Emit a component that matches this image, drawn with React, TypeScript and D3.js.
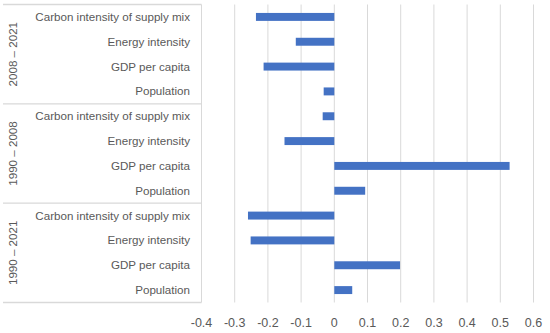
import { useMemo } from "react";
import * as d3 from "d3";

const groups = ["2008 – 2021", "1990 – 2008", "1990 – 2021"];
const factors = ["Carbon intensity of supply mix", "Energy intensity", "GDP per capita", "Population"];
const values2008_2021 = [-0.236, -0.116, -0.213, -0.032];
const values1990_2008 = [-0.035, -0.15, 0.528, 0.093];
const values1990_2021 = [-0.26, -0.252, 0.198, 0.054];
const xTicks = [-0.4, -0.3, -0.2, -0.1, 0, 0.1, 0.2, 0.3, 0.4, 0.5, 0.6];

const WIDTH = 550;
const HEIGHT = 333;
const TEXT = "#595959";
const GRID = "#d9d9d9";
const BAR = "#4472c4";
const FONT = "'Liberation Sans', Arial, sans-serif";

export default function App() {
  const rows = useMemo(() => {
    const all = [values2008_2021, values1990_2008, values1990_2021];
    return groups.flatMap((g, gi) =>
      factors.map((f, fi) => ({ key: `${g}|${f}`, group: g, factor: f, value: all[gi][fi] }))
    );
  }, []);

  const xScale = d3.scaleLinear().domain([-0.4, 0.6]).range([201.5, 533.5]);
  const yScale = d3
    .scaleBand()
    .domain(rows.map((r) => r.key))
    .range([4.5, 302.5])
    .paddingInner(0.68)
    .paddingOuter(0.34);
  const step = yScale.step();
  const groupH = step * factors.length;

  return (
    <svg
      width={WIDTH}
      height={HEIGHT}
      style={{ position: "absolute", left: 0, top: 0, background: "white" }}
      fontFamily={FONT}
    >
      {xTicks.map((t) => (
        <line key={t} x1={xScale(t)} x2={xScale(t)} y1={4.5} y2={302.5} stroke={GRID} strokeWidth={1} />
      ))}
      {/* category axis box lines */}
      {[0, 1, 2, 3].map((i) => (
        <line key={i} x1={3} x2={xScale(-0.4)} y1={4.5 + i * groupH} y2={4.5 + i * groupH} stroke={GRID} strokeWidth={1.3} />
      ))}
      {rows.map((r) => (
        <rect
          key={r.key}
          fill={BAR}
          x={Math.min(xScale(r.value), xScale(0))}
          width={Math.abs(xScale(r.value) - xScale(0))}
          y={yScale(r.key)}
          height={yScale.bandwidth()}
        />
      ))}
      {rows.map((r) => (
        <text
          key={r.key}
          x={190}
          y={(yScale(r.key) ?? 0) + yScale.bandwidth() / 2}
          dy="0.35em"
          textAnchor="end"
          fontSize={11.6}
          fill={TEXT}
        >
          {r.factor}
        </text>
      ))}
      {groups.map((g, gi) => {
        const cy = 4.5 + gi * groupH + groupH / 2;
        return (
          <text
            key={g}
            transform={`translate(13,${cy}) rotate(-90)`}
            textAnchor="middle"
            dy="0.35em"
            fontSize={11.6}
            fill={TEXT}
          >
            {g}
          </text>
        );
      })}
      {xTicks.map((t) => (
        <text key={t} x={xScale(t)} y={323} dy="0.35em" textAnchor="middle" fontSize={12.5} fill={TEXT}>
          {String(t)}
        </text>
      ))}
    </svg>
  );
}
